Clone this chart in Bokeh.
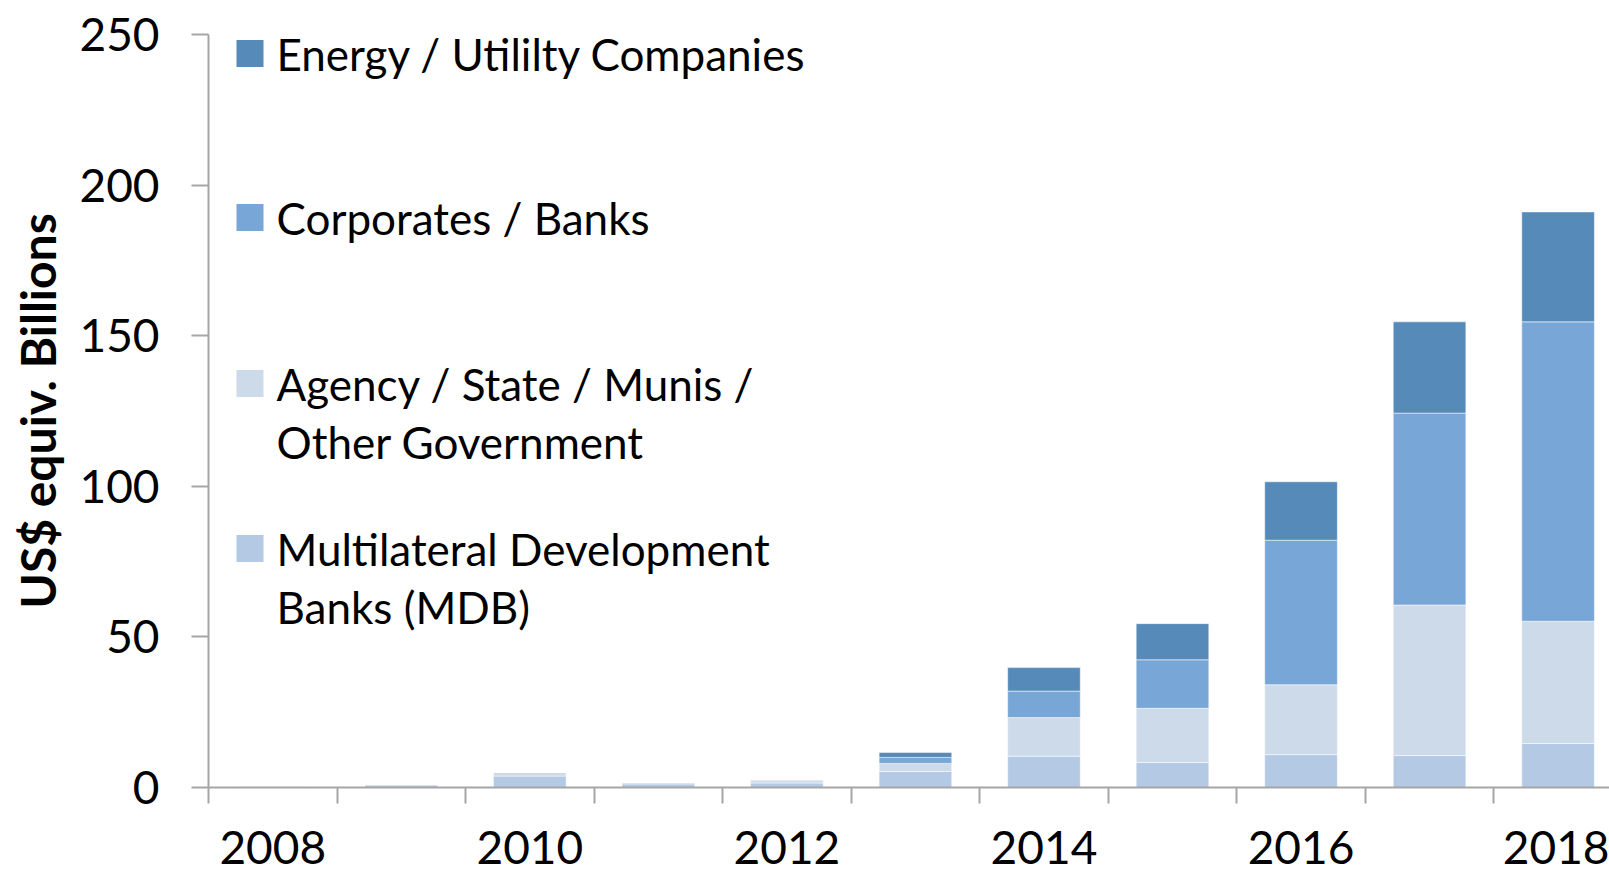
from bokeh.plotting import figure
from bokeh.models import ColumnDataSource, Range1d, FixedTicker, Label, BoxAnnotation
from bokeh.embed import file_html
from bokeh.resources import INLINE

years = ["2008", "2009", "2010", "2011", "2012", "2013", "2014", "2015", "2016", "2017", "2018"]
mdb = [0.4, 0.8, 3.8, 1.2, 1.5, 5.3, 10.4, 8.3, 10.9, 10.6, 14.6]
agency = [0.1, 0.2, 1.2, 0.5, 1.0, 2.7, 12.8, 18.0, 23.2, 50.0, 40.6]
corporates = [0.0, 0.0, 0.0, 0.0, 0.1, 2.0, 8.8, 16.1, 48.0, 63.7, 99.4]
energy = [0.0, 0.0, 0.0, 0.0, 0.0, 1.6, 7.8, 12.0, 19.4, 30.3, 36.5]

series = ["mdb", "agency", "corporates", "energy"]
colors = ["#B4C9E3", "#CDDAEA", "#78A6D6", "#558AB9"]
legend_labels = [
    ["Energy / Utililty Companies"],
    ["Corporates / Banks"],
    ["Agency / State / Munis /", "Other Government"],
    ["Multilateral Development", "Banks (MDB)"],
]
legend_colors = ["#558AB9", "#78A6D6", "#CDDAEA", "#B4C9E3"]

FONT = "Lato"

xs = list(range(len(years)))
source = ColumnDataSource(dict(x=xs, mdb=mdb, agency=agency, corporates=corporates, energy=energy))

# frame geometry (figure pixels)
FIG_W, FIG_H = 1609, 876
LEFT, TOP = 208, 34
FRAME_H = 753
X0, X1 = -0.5, 10.4
Y0, Y1 = 0, 250
FRAME_W = FIG_W - LEFT

p = figure(width=FIG_W, height=FIG_H, output_backend="svg", toolbar_location=None,
           x_range=Range1d(X0, X1), y_range=Range1d(Y0, Y1),
           min_border_left=LEFT, min_border_top=TOP, min_border_right=0,
           min_border_bottom=FIG_H - TOP - FRAME_H)
p.outline_line_color = None
p.xgrid.grid_line_color = None
p.ygrid.grid_line_color = None
p.background_fill_color = "white"
p.border_fill_color = "white"

p.vbar_stack(series, x="x", width=0.565, color=colors, source=source,
             line_color="white", line_width=1, line_alpha=0.5)

def px_to_x(px):
    return X0 + (px - LEFT) / FRAME_W * (X1 - X0)
def py_to_y(py):
    return Y1 - (py - TOP) / FRAME_H * (Y1 - Y0)

AX = "#A6A6A6"
# x axis: ticks at category boundaries, year labels every other category
p.xaxis.ticker = FixedTicker(ticks=xs[::2], minor_ticks=[i - 0.5 for i in range(len(years) + 1)])
p.xaxis.major_label_overrides = {i: years[i] for i in xs}
p.xaxis.axis_line_color = AX
p.xaxis.axis_line_width = 2
p.xaxis.major_tick_out = 0
p.xaxis.major_tick_in = 0
p.xaxis.minor_tick_out = 16
p.xaxis.minor_tick_in = 0
p.xaxis.minor_tick_line_color = AX
p.xaxis.minor_tick_line_width = 2
p.xaxis.major_label_text_font = FONT
p.xaxis.major_label_text_font_size = "46px"
p.xaxis.major_label_text_color = "black"
p.xaxis.major_label_standoff = 27

# y axis
p.yaxis.ticker = FixedTicker(ticks=[0, 50, 100, 150, 200, 250])
p.yaxis.axis_line_color = AX
p.yaxis.axis_line_width = 2
p.yaxis.major_tick_out = 17
p.yaxis.major_tick_in = 0
p.yaxis.major_tick_line_color = AX
p.yaxis.major_tick_line_width = 2
p.yaxis.minor_tick_line_color = None
p.yaxis.major_label_text_font = FONT
p.yaxis.major_label_text_font_size = "46px"
p.yaxis.major_label_text_color = "black"
p.yaxis.major_label_standoff = 32
p.yaxis.axis_label = "US$ equiv. Billions"
p.yaxis.axis_label_text_font = FONT
p.yaxis.axis_label_text_font_size = "48px"
p.yaxis.axis_label_text_font_style = "bold"
p.yaxis.axis_label_text_color = "black"
p.yaxis.axis_label_standoff = 10

# legend drawn manually
row_y = [53, 217, 383, 548]
line_gap = 58
for lbls, col, ry in zip(legend_labels, legend_colors, row_y):
    p.add_layout(BoxAnnotation(left=px_to_x(236), right=px_to_x(263),
                               top=py_to_y(ry - 13.5), bottom=py_to_y(ry + 13.5),
                               fill_color=col, fill_alpha=1, line_color=None))
    for k, t in enumerate(lbls):
        p.add_layout(Label(x=px_to_x(276), y=py_to_y(ry + k * line_gap), text=t,
                           text_font=FONT, text_font_size="44px", text_color="black",
                           text_baseline="middle", text_align="left"))

open("out.html", "w").write(file_html(p, INLINE))
